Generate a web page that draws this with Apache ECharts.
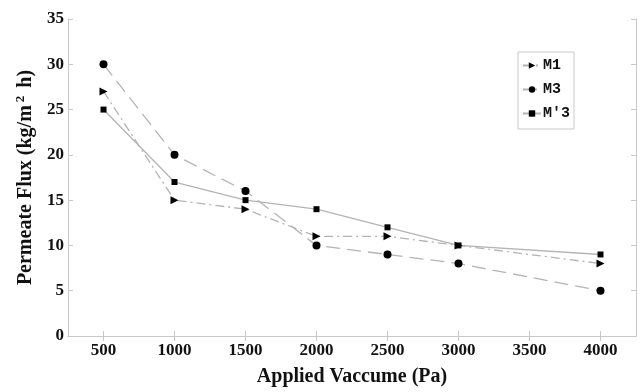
<!DOCTYPE html>
<html>
<head>
<meta charset="utf-8">
<script src="https://cdn.jsdelivr.net/npm/echarts@6/dist/echarts.min.js"></script>
<style>
  html, body { margin: 0; padding: 0; background: #fff; }
  #chart { width: 644px; height: 392px; }
</style>
</head>
<body>
<div id="chart"></div>
<script>
// Applied vacuum (Pa) at which each membrane was tested
const vacuum = [500, 1000, 1500, 2000, 2500, 3000, 4000];
// Permeate flux (kg/m2 h)
const fluxM1 = [27, 15, 14, 11, 11, 10, 8];
const fluxM3 = [30, 20, 16, 10, 9, 8, 5];
const fluxM3p = [25, 17, 15, 14, 12, 10, 9];
// Axis tick positions
const xTicks = [500, 1000, 1500, 2000, 2500, 3000, 3500, 4000];
const seriesNames = ['M1', 'M3', "M'3"];

const pairs = (ys) => vacuum.map((x, i) => [x, ys[i]]);

const axisGray = '#c8c8c8';
const lineGray = '#b4b4b4';
const serif = '"Liberation Serif", "Times New Roman", serif';
const labelFont = {
  fontFamily: serif,
  fontWeight: 'bold',
  fontSize: 17,
  color: '#111'
};
const titleFont = {
  fontFamily: serif,
  fontWeight: 'bold',
  fontSize: 20,
  color: '#111'
};

const chart = echarts.init(document.getElementById('chart'));
chart.setOption({
  animation: false,
  backgroundColor: '#fff',
  grid: { left: 68, right: 8, top: 19, bottom: 49 },
  legend: {
    orient: 'vertical',
    left: 518,
    top: 52,
    width: 59,
    padding: [6, 4, 8, 4],
    itemGap: 9,
    itemWidth: 18,
    itemHeight: 8,
    borderColor: axisGray,
    borderWidth: 1,
    textStyle: {
      fontFamily: '"Liberation Mono", "Courier New", monospace',
      fontWeight: 'bold',
      fontSize: 15,
      color: '#111',
      padding: [0, 0, 0, -3]
    },
    data: seriesNames
  },
  xAxis: [{
    type: 'value',
    min: 250,
    max: 4250,
    name: 'Applied Vaccume (Pa)',
    nameLocation: 'middle',
    nameGap: 31,
    nameTextStyle: titleFont,
    axisLine: { show: true, lineStyle: { color: axisGray } },
    axisTick: { show: true, inside: true, length: 5, customValues: xTicks, lineStyle: { color: axisGray } },
    axisLabel: Object.assign({ customValues: xTicks, margin: 6, formatter: (v) => String(v) }, labelFont),
    splitLine: { show: false }
  }, {
    type: 'value',
    position: 'top',
    min: 250,
    max: 4250,
    axisLine: { show: true, lineStyle: { color: axisGray } },
    axisTick: { show: true, inside: true, length: 5, customValues: xTicks, lineStyle: { color: axisGray } },
    axisLabel: { show: false },
    splitLine: { show: false }
  }],
  yAxis: [{
    type: 'value',
    min: 0,
    max: 35,
    interval: 5,
    name: '{a|Permeate Flux (kg/m}{s|2}{a| h)}',
    nameLocation: 'middle',
    nameGap: 31,
    nameTextStyle: {
      rich: {
        a: titleFont,
        s: Object.assign({}, titleFont, { fontSize: 13, padding: [0, 3, 10, 3] })
      }
    },
    axisLine: { show: true, lineStyle: { color: axisGray } },
    axisTick: { show: true, inside: true, length: 5, lineStyle: { color: axisGray } },
    axisLabel: Object.assign({ margin: 4 }, labelFont),
    splitLine: { show: false }
  }, {
    type: 'value',
    position: 'right',
    min: 0,
    max: 35,
    interval: 5,
    axisLine: { show: true, lineStyle: { color: axisGray } },
    axisTick: { show: true, inside: true, length: 5, lineStyle: { color: axisGray } },
    axisLabel: { show: false },
    splitLine: { show: false }
  }],
  series: [{
    name: 'M1',
    type: 'line',
    data: pairs(fluxM1),
    symbol: 'triangle',
    symbolRotate: -90,
    symbolSize: 8,
    itemStyle: { color: '#000' },
    lineStyle: { color: lineGray, width: 1.3, type: [9, 4, 2, 4] }
  }, {
    name: 'M3',
    type: 'line',
    data: pairs(fluxM3),
    symbol: 'circle',
    symbolSize: 8,
    itemStyle: { color: '#000' },
    lineStyle: { color: lineGray, width: 1.3, type: [14, 7] }
  }, {
    name: "M'3",
    type: 'line',
    data: pairs(fluxM3p),
    symbol: 'rect',
    symbolSize: 6,
    itemStyle: { color: '#000' },
    lineStyle: { color: lineGray, width: 1.3, type: 'solid' }
  }]
});
</script>
</body>
</html>
